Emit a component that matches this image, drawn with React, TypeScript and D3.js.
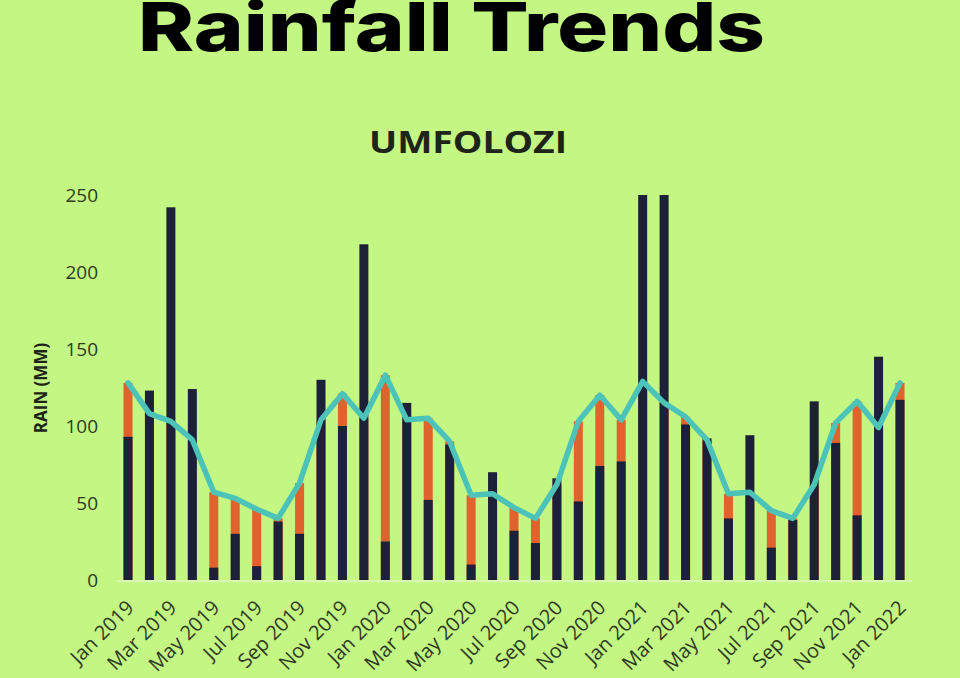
import React from 'react';
import * as d3 from 'd3';

// monthly rainfall, Umfolozi, Jan 2019 - Jan 2022
const months = [
  'Jan 2019', 'Feb 2019', 'Mar 2019', 'Apr 2019', 'May 2019', 'Jun 2019', 'Jul 2019', 'Aug 2019', 'Sep 2019', 'Oct 2019', 'Nov 2019', 'Dec 2019',
  'Jan 2020', 'Feb 2020', 'Mar 2020', 'Apr 2020', 'May 2020', 'Jun 2020', 'Jul 2020', 'Aug 2020', 'Sep 2020', 'Oct 2020', 'Nov 2020', 'Dec 2020',
  'Jan 2021', 'Feb 2021', 'Mar 2021', 'Apr 2021', 'May 2021', 'Jun 2021', 'Jul 2021', 'Aug 2021', 'Sep 2021', 'Oct 2021', 'Nov 2021', 'Dec 2021',
  'Jan 2022',
];

// measured rain (dark bars)
const actual = [
  93, 123, 242, 124, 8, 30, 9, 38, 30, 130, 100, 218,
  25, 115, 52, 88, 10, 70, 32, 24, 66, 51, 74, 77,
  250, 250, 101, 92, 40, 94, 21, 39, 116, 89, 42, 145,
  117,
];

// long term average (orange bars + teal line)
const average = [
  128, 108, 103, 91, 57, 53, 46, 40, 63, 104, 121, 105,
  133, 104, 105, 90, 55, 56, 47, 40, 62, 103, 120, 104,
  129, 115, 106, 91, 56, 57, 45, 40, 62, 102, 116, 99,
  128,
];

const yTicks = [0, 50, 100, 150, 200, 250];
const xTickLabels = months.filter((_, i) => i % 2 === 0);

const W = 960;
const H = 678;

export default function App() {
  const x = d3.scalePoint<string>().domain(months).range([128, 900]);
  const y = d3.scaleLinear().domain([0, 250]).range([580, 195]);
  const barW = 9;

  const line = d3.line<number>()
    .x((_, i) => x(months[i]) ?? 0)
    .y(d => y(d));

  return (
    <svg width={W} height={H} style={{ position: 'fixed', left: 0, top: 0, display: 'block' }}>
      <rect width={W} height={H} fill="#c3f682" />

      <text x={138} y={51} fontFamily="Inter, 'Open Sans', sans-serif" fontWeight={800} fontSize={68}
        textLength={627} lengthAdjust="spacingAndGlyphs" fill="#000">Rainfall Trends</text>

      <text x={468} y={153} textAnchor="middle" fontFamily="'Open Sans', sans-serif" fontWeight={700}
        fontSize={31} textLength={198} lengthAdjust="spacingAndGlyphs" fill="#1e2418">UMFOLOZI</text>

      {/* y axis */}
      <text transform="translate(47,388) rotate(-90)" textAnchor="middle" fontFamily="'Open Sans', sans-serif"
        fontWeight={700} fontSize={17} fill="#1e2418">RAIN (MM)</text>
      {yTicks.map(t => (
        <text key={t} x={98} y={y(t)} dy="0.35em" textAnchor="end" fontFamily="'Open Sans', sans-serif"
          fontSize={19} fill="#2e3a26">{t}</text>
      ))}

      {/* baseline */}
      <line x1={117} x2={912} y1={y(0) + 1} y2={y(0) + 1} stroke="#e3f7c8" strokeWidth={1.5} />

      {/* bars */}
      {months.map((m, i) => (
        <g key={m}>
          <rect x={(x(m) ?? 0) - barW / 2} y={y(average[i])} width={barW} height={y(0) - y(average[i])} fill="#e0622c" />
          <rect x={(x(m) ?? 0) - barW / 2} y={y(actual[i])} width={barW} height={y(0) - y(actual[i])} fill="#1d2039" />
        </g>
      ))}

      <path d={line(average) ?? ''} fill="none" stroke="#4cc3b8" strokeWidth={5.5} strokeLinejoin="round" strokeLinecap="round" />

      {/* x labels */}
      {xTickLabels.map(m => (
        <text key={m} transform={`translate(${(x(m) ?? 0) + 7},${609}) rotate(-45)`} textAnchor="end"
          fontFamily="'Open Sans', sans-serif" fontSize={20} fill="#2e3a26">{m}</text>
      ))}
    </svg>
  );
}
